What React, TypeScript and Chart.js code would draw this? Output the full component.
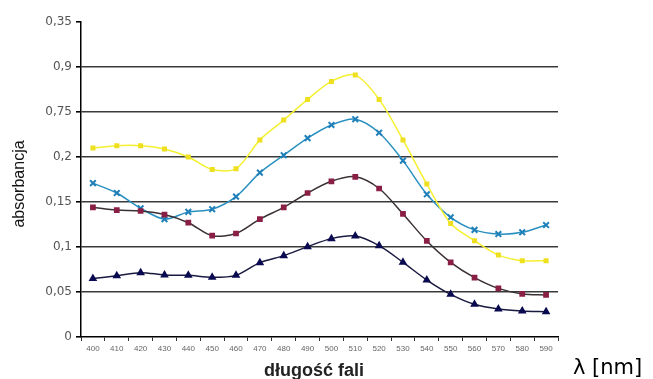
import React, { useEffect, useRef } from "react";
import { Chart, registerables } from "chart.js";

Chart.register(...registerables);

const categories = ["400","410","420","430","440","450","460","470","480","490","500","510","520","530","540","550","560","570","580","590"];
const yTickLabels = ["0", "0,05", "0,1", "0,15", "0,2", "0,75", "0,9", "0,35"];

const seriesNavy = [0.065,0.068,0.0715,0.069,0.0685,0.0663,0.0685,0.0826,0.0904,0.1004,0.1093,0.1122,0.1015,0.083,0.0633,0.0474,0.0363,0.0311,0.0289,0.0281];
const seriesMaroon = [0.144,0.141,0.140,0.136,0.127,0.1126,0.115,0.131,0.144,0.160,0.173,0.178,0.165,0.1367,0.1067,0.083,0.066,0.054,0.0478,0.0467];
const seriesYellow = [0.210,0.2126,0.2126,0.209,0.200,0.186,0.187,0.219,0.241,0.264,0.284,0.291,0.264,0.219,0.170,0.126,0.107,0.091,0.0848,0.0848];
const seriesBlue = [0.171,0.160,0.143,0.131,0.139,0.142,0.156,0.1826,0.202,0.221,0.2356,0.242,0.227,0.196,0.1586,0.133,0.119,0.1144,0.1163,0.1244];

const xTitle = "długość fali";
const unitLabel = "λ [nm]";
const yTitle = "absorbancja";

export default function App() {
  const ref = useRef<HTMLCanvasElement | null>(null);
  useEffect(() => {
    if (!ref.current) return;
    const textPlugin = {
      id: "extraText",
      afterDraw(chart: any) {
        const ctx = chart.ctx;
        ctx.save();
        ctx.fillStyle = "#222";
        ctx.font = "bold 18px Arial, 'Liberation Sans', sans-serif";
        ctx.textAlign = "center";
        ctx.textBaseline = "alphabetic";
        ctx.fillText(xTitle, 314, 376);
        ctx.fillStyle = "#000";
        ctx.font = "21px 'DejaVu Sans', sans-serif";
        ctx.textAlign = "left";
        ctx.fillText(unitLabel, 573, 374);
        ctx.translate(20, 184);
        ctx.rotate(-Math.PI / 2);
        ctx.fillStyle = "#151515";
        ctx.font = "16px Arial, 'Liberation Sans', sans-serif";
        ctx.textAlign = "center";
        ctx.textBaseline = "middle";
        ctx.fillText(yTitle, 0, 0);
        ctx.restore();
      },
    };
    const chart = new Chart(ref.current, {
      type: "line",
      data: {
        labels: categories,
        datasets: [
          {
            data: seriesNavy,
            borderColor: "#1a1a40",
            backgroundColor: "#0a0a50",
            pointBorderColor: "#0a0a50",
            pointStyle: "triangle",
            pointRadius: 3.5,
            borderWidth: 1.5,
          },
          {
            data: seriesMaroon,
            borderColor: "#3a3035",
            backgroundColor: "#8a1f45",
            pointBorderColor: "#8a1f45",
            pointStyle: "rect",
            pointRadius: 3,
            borderWidth: 1.5,
          },
          {
            data: seriesYellow,
            borderColor: "#f5f030",
            backgroundColor: "#eee020",
            pointBorderColor: "#eee020",
            pointStyle: "rect",
            pointRadius: 2.5,
            borderWidth: 1.5,
          },
          {
            data: seriesBlue,
            borderColor: "#2a90c0",
            backgroundColor: "#1f7fb8",
            pointBorderColor: "#1f7fb8",
            pointStyle: "crossRot",
            pointRadius: 4,
            pointBorderWidth: 2,
            borderWidth: 1.5,
          },
        ],
      },
      options: {
        animation: false,
        responsive: false,
        maintainAspectRatio: false,
        layout: { padding: { top: 22, right: 95, left: 0, bottom: 0 } },
        plugins: { legend: { display: false }, tooltip: { enabled: false } },
        elements: { line: { tension: 0.3 } },
        scales: {
          x: {
            type: "category",
            offset: true,
            grid: {
              drawOnChartArea: false,
              drawTicks: true,
              tickLength: 4,
              tickColor: "#333",
              offset: true,
            },
            border: { color: "#000", width: 1.5 },
            ticks: {
              autoSkip: false,
              maxRotation: 0,
              minRotation: 0,
              padding: 3,
              color: "#666",
              font: { size: 8, family: "Arial, 'Liberation Sans', sans-serif" },
            },
            afterFit: (s: any) => {
              s.height = 42;
            },
          },
          y: {
            min: 0,
            max: 0.35,
            ticks: {
              stepSize: 0.05,
              padding: 4,
              color: "#555",
              font: { size: 12, family: "'DejaVu Sans', sans-serif" },
              callback: (v: any) => {
                const i = Math.round(Number(v) / 0.05);
                return yTickLabels[i] ?? "";
              },
            },
            grid: {
              color: (c: any) => {
                const v = c.tick ? c.tick.value : 0;
                if (v > 0.34 || v < 0.01) return "rgba(0,0,0,0)";
                return "#3a3a3a";
              },
              lineWidth: 1.6,
              tickColor: "#000",
              tickLength: 5,
            },
            border: { color: "#000", width: 1.5 },
            afterFit: (s: any) => {
              s.width = 81;
            },
          },
        },
      },
      plugins: [textPlugin],
    } as any);
    return () => chart.destroy();
  }, []);
  return (
    <div style={{ position: "absolute", left: 0, top: 0, width: 653, height: 379, background: "#fff" }}>
      <canvas ref={ref} width={653} height={379} style={{ width: 653, height: 379, display: "block" }} />
    </div>
  );
}
